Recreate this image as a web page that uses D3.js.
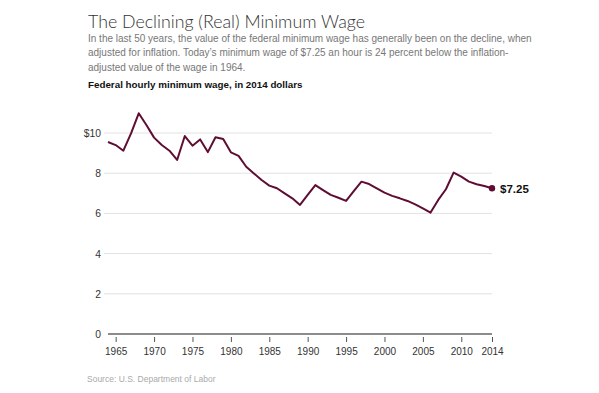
<!DOCTYPE html>
<html>
<head>
<meta charset="utf-8">
<script src="https://cdn.jsdelivr.net/npm/d3@7"></script>
<style>
  html, body { margin: 0; padding: 0; background: #fff; }
  svg { display: block; }
</style>
</head>
<body>
<svg id="chart" width="599" height="393"></svg>
<script>
const years = d3.range(1964, 2015);
const wages = [
  9.55, 9.40, 9.12, 9.98, 10.98, 10.40, 9.77, 9.40, 9.12, 8.66,
  9.85, 9.37, 9.68, 9.05, 9.79, 9.70, 9.04, 8.86, 8.32, 7.99,
  7.66, 7.38, 7.25, 7.00, 6.75, 6.42, 6.92, 7.41, 7.16, 6.92,
  6.78, 6.62, 7.11, 7.58, 7.46, 7.25, 7.03, 6.87, 6.75, 6.62,
  6.45, 6.25, 6.04, 6.67, 7.20, 8.03, 7.83, 7.58, 7.45, 7.36,
  7.25
];
const yTicks = [0, 2, 4, 6, 8, 10];
const yTickLabels = ["0", "2", "4", "6", "8", "$10"];
const xTicks = [1965, 1970, 1975, 1980, 1985, 1990, 1995, 2000, 2005, 2010, 2014];
const title = "The Declining (Real) Minimum Wage";
const desc = [
  "In the last 50 years, the value of the federal minimum wage has generally been on the decline, when",
  "adjusted for inflation. Today\u2019s minimum wage of $7.25 an hour is 24 percent below the inflation-",
  "adjusted value of the wage in 1964."
];
const subtitle = "Federal hourly minimum wage, in 2014 dollars";
const source = "Source: U.S. Department of Labor";
const endLabel = "$7.25";

const data = years.map((y, i) => ({ year: y, value: wages[i] }));
const svg = d3.select("#chart");
const left = 88;
const font = "'Liberation Sans', Arial, sans-serif";

svg.append("text").attr("x", left).attr("y", 27.5)
  .attr("font-family", "Lato, 'Open Sans', sans-serif").attr("font-weight", 300)
  .attr("font-size", 17.8).attr("fill", "#333").text(title);

svg.append("g").selectAll("text").data(desc).join("text")
  .attr("x", left).attr("y", (d, i) => 41.5 + i * 14.5)
  .attr("font-family", font).attr("font-size", 10).attr("fill", "#777")
  .text(d => d);

svg.append("text").attr("x", left).attr("y", 87.5)
  .attr("font-family", font).attr("font-weight", "bold")
  .attr("font-size", 9.8).attr("fill", "#111").text(subtitle);

const x = d3.scaleLinear().domain([1964, 2014]).range([108, 492]);
const y = d3.scaleLinear().domain([0, 10]).range([334, 133]);

// gridlines
svg.append("g").selectAll("line").data(yTicks.filter(d => d > 0)).join("line")
  .attr("x1", 104).attr("x2", 492)
  .attr("y1", d => y(d)).attr("y2", d => y(d))
  .attr("stroke", "#e2e2e2").attr("stroke-width", 1);

// y labels
svg.append("g").selectAll("text").data(yTicks).join("text")
  .attr("x", 101).attr("y", d => y(d) + 4)
  .attr("text-anchor", "end")
  .attr("font-family", font).attr("font-size", 10.3).attr("fill", "#333")
  .text((d, i) => yTickLabels[i]);

// x axis
const xAxis = d3.axisBottom(x).tickValues(xTicks).tickFormat(d3.format("d"))
  .tickSize(5).tickPadding(6);
const gx = svg.append("g").attr("transform", `translate(0,${y(0) + 3})`).call(xAxis);
gx.select(".domain").remove();
gx.selectAll(".tick line").attr("stroke", "#555");
gx.selectAll(".tick text").attr("font-family", font).attr("font-size", 10)
  .attr("fill", "#333");

svg.append("line").attr("x1", x(1964)).attr("x2", x(2014))
  .attr("y1", y(0)).attr("y2", y(0))
  .attr("stroke", "#666").attr("stroke-width", 1.5);

// line
const line = d3.line().x(d => x(d.year)).y(d => y(d.value));
svg.append("path").datum(data).attr("d", line)
  .attr("fill", "none").attr("stroke", "#5f0d33").attr("stroke-width", 2)
  .attr("stroke-linejoin", "round");

const last = data[data.length - 1];
svg.append("circle").attr("cx", x(last.year)).attr("cy", y(last.value)).attr("r", 3.2)
  .attr("fill", "#5f0d33");
svg.append("text").attr("x", x(last.year) + 8).attr("y", y(last.value) + 4.5)
  .attr("font-family", font).attr("font-weight", "bold").attr("font-size", 11.5)
  .attr("fill", "#111").text(endLabel);

svg.append("text").attr("x", 87).attr("y", 382)
  .attr("font-family", font).attr("font-size", 8.5).attr("fill", "#aaa").text(source);
</script>
</body>
</html>
